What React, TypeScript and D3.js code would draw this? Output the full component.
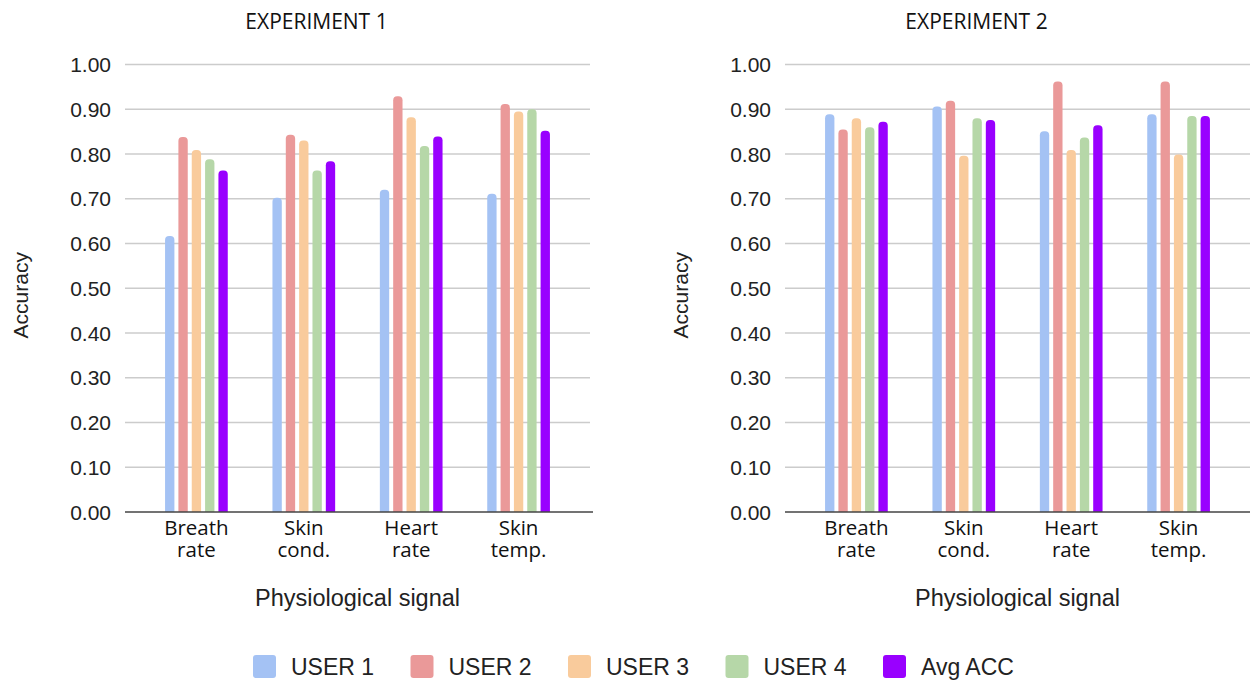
import React from "react";
import * as d3 from "d3";

const categories = ["Breath rate", "Skin cond.", "Heart rate", "Skin temp."];
const series = ["USER 1", "USER 2", "USER 3", "USER 4", "Avg ACC"];
const seriesColors = ["#a4c2f4", "#ea9999", "#f9cb9c", "#b6d7a8", "#9900ff"];
const yTicks = [0, 0.1, 0.2, 0.3, 0.4, 0.5, 0.6, 0.7, 0.8, 0.9, 1.0];

// Experiment 1 accuracy per signal
const exp1User1 = [0.617, 0.702, 0.72, 0.711];
const exp1User2 = [0.838, 0.843, 0.929, 0.912];
const exp1User3 = [0.809, 0.83, 0.882, 0.895];
const exp1User4 = [0.788, 0.763, 0.818, 0.9];
const exp1Avg = [0.763, 0.784, 0.839, 0.852];

// Experiment 2 accuracy per signal
const exp2User1 = [0.889, 0.906, 0.851, 0.889];
const exp2User2 = [0.855, 0.919, 0.962, 0.962];
const exp2User3 = [0.88, 0.796, 0.809, 0.799];
const exp2User4 = [0.86, 0.88, 0.837, 0.885];
const exp2Avg = [0.872, 0.876, 0.864, 0.885];

const panels = [
  { title: "EXPERIMENT 1", values: [exp1User1, exp1User2, exp1User3, exp1User4, exp1Avg] },
  { title: "EXPERIMENT 2", values: [exp2User1, exp2User2, exp2User3, exp2User4, exp2Avg] },
];

const W = 1250;
const H = 682;
const PANEL_OFFSET = 660;
const PLOT_LEFT = 125;
const PLOT_RIGHT = 590;
const Y_TOP = 64.5;
const Y_BOTTOM = 512;

const y = d3.scaleLinear().domain([0, 1]).range([Y_BOTTOM, Y_TOP]);
const x0 = d3.scaleBand<string>().domain(categories).range([PLOT_LEFT, PLOT_RIGHT]).padding(0.33);
const x1 = d3.scaleBand<string>().domain(series).range([0, 62.7]).paddingInner(0.3);

function roundedTopBar(x: number, w: number, yTop: number, yBase: number, r: number) {
  const rr = Math.min(r, w / 2, (yBase - yTop) / 2);
  const p = d3.path();
  p.moveTo(x, yBase);
  p.lineTo(x, yTop + rr);
  p.arcTo(x, yTop, x + rr, yTop, rr);
  p.lineTo(x + w - rr, yTop);
  p.arcTo(x + w, yTop, x + w, yTop + rr, rr);
  p.lineTo(x + w, yBase);
  p.closePath();
  return p.toString();
}

const sansFont = "'Liberation Sans', Arial, sans-serif";
const labelFont = "'Open Sans', sans-serif";

function Panel({ title, values, offset }: { title: string; values: number[][]; offset: number }) {
  const groupWidth = x1.range()[1];
  return (
    <g transform={`translate(${offset},0)`}>
      <text x={(PLOT_LEFT + PLOT_RIGHT) / 2 - 41} y={29} textAnchor="middle" fontFamily={labelFont} fontSize={21} fill="#111">
        {title}
      </text>
      {yTicks.map((t) => (
        <g key={t}>
          {t > 0 && (
            <line x1={PLOT_LEFT} x2={PLOT_RIGHT} y1={y(t)} y2={y(t)} stroke="#cccccc" strokeWidth={1.5} />
          )}
          <text x={111} y={y(t) + 7.5} textAnchor="end" fontFamily={sansFont} fontSize={21} fill="#222">
            {t.toFixed(2)}
          </text>
        </g>
      ))}
      {categories.map((c, ci) => {
        const gx = (x0(c) as number) + x0.bandwidth() / 2 - groupWidth / 2;
        return (
          <g key={c}>
            {series.map((s, si) => (
              <path
                key={s}
                d={roundedTopBar(gx + (x1(s) as number), x1.bandwidth(), y(values[si][ci]), y(0), 4)}
                fill={seriesColors[si]}
              />
            ))}
          </g>
        );
      })}
      <line x1={PLOT_LEFT} x2={PLOT_RIGHT + 3} y1={y(0)} y2={y(0)} stroke="#444" strokeWidth={1.5} />
      {categories.map((c) => {
        const cx = (x0(c) as number) + x0.bandwidth() / 2;
        const [a, b] = c.split(" ");
        return (
          <text key={c} x={cx} textAnchor="middle" fontFamily={labelFont} fontSize={20.5} fill="#111">
            <tspan x={cx} y={535}>{a}</tspan>
            <tspan x={cx} y={557}>{b}</tspan>
          </text>
        );
      })}
      <text
        x={(PLOT_LEFT + PLOT_RIGHT) / 2}
        y={606}
        textAnchor="middle"
        fontFamily={sansFont}
        fontSize={23.5}
        fill="#222"
      >
        Physiological signal
      </text>
      <text
        transform={`translate(28,${(Y_TOP + Y_BOTTOM) / 2 + 7}) rotate(-90)`}
        textAnchor="middle"
        fontFamily={sansFont}
        fontSize={21}
        fill="#222"
      >
        Accuracy
      </text>
    </g>
  );
}

const legendX = d3.scalePoint<string>().domain(series).range([253, 883]);

export default function App() {
  return (
    <svg
      width={W}
      height={H}
      viewBox={`0 0 ${W} ${H}`}
      style={{ position: "absolute", left: 0, top: 0, background: "#fff" }}
    >
      <rect width={W} height={H} fill="#fff" />
      {panels.map((p, i) => (
        <Panel key={p.title} title={p.title} values={p.values} offset={i * PANEL_OFFSET} />
      ))}
      {series.map((s, i) => (
        <g key={s} transform={`translate(${legendX(s)},655)`}>
          <rect width={23} height={23} rx={3} fill={seriesColors[i]} />
          <text x={38} y={19.5} fontFamily={sansFont} fontSize={23} fill="#222">
            {s}
          </text>
        </g>
      ))}
    </svg>
  );
}
